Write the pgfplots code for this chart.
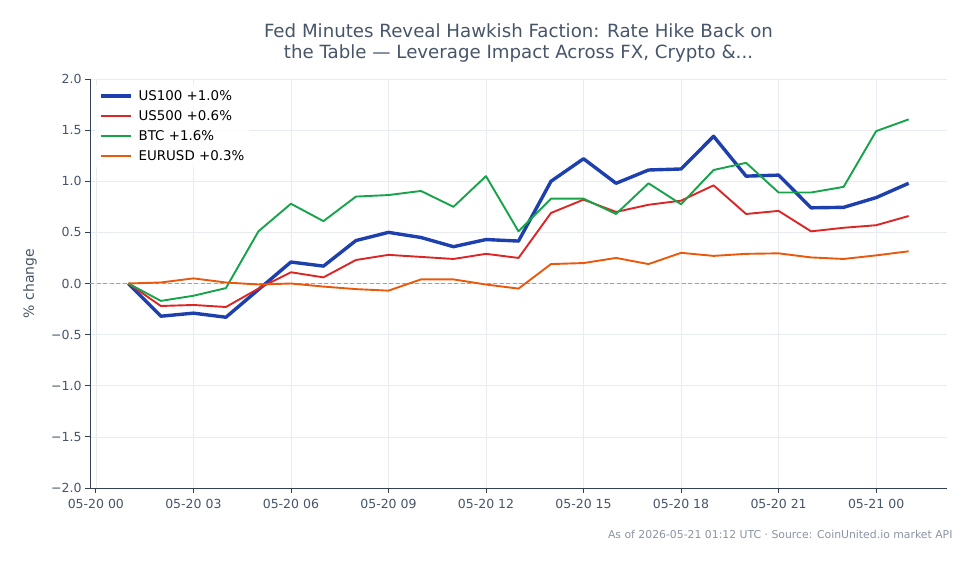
\documentclass[border=0pt]{standalone}
\usepackage{fontspec}
\setmainfont{DejaVu Sans}
\usepackage{pgfplots}
\pgfplotsset{compat=1.18}

\definecolor{cUS}{HTML}{1E40AF}
\definecolor{cSP}{HTML}{DC2626}
\definecolor{cBTC}{HTML}{16A34A}
\definecolor{cEUR}{HTML}{EA580C}
\definecolor{txt}{HTML}{475569}
\definecolor{spine}{HTML}{334155}
\definecolor{gridc}{HTML}{E8ECF1}
\definecolor{zero}{HTML}{94A3B8}
\definecolor{foot}{HTML}{8A94A3}

% hours since 05-20 00 UTC, percent change since the first sample
\pgfplotstableread{
h   us100  us500  btc    eur
1   0.00   0.00   0.00   0.00
2  -0.32  -0.22  -0.17   0.01
3  -0.29  -0.21  -0.12   0.05
4  -0.33  -0.23  -0.045  0.01
5  -0.06  -0.05   0.51  -0.01
6   0.21   0.11   0.78   0.00
7   0.17   0.06   0.61  -0.03
8   0.42   0.23   0.85  -0.055
9   0.50   0.28   0.865 -0.07
10  0.45   0.26   0.905  0.04
11  0.36   0.24   0.75   0.04
12  0.43   0.29   1.05  -0.01
13  0.415  0.25   0.51  -0.05
14  1.00   0.69   0.83   0.19
15  1.22   0.82   0.83   0.20
16  0.98   0.70   0.68   0.25
17  1.11   0.77   0.98   0.19
18  1.12   0.81   0.775  0.30
19  1.44   0.96   1.11   0.27
20  1.05   0.68   1.18   0.29
21  1.06   0.71   0.89   0.295
22  0.74   0.51   0.89   0.255
23  0.745  0.545  0.945  0.24
24  0.84   0.57   1.49   0.275
25  0.98   0.66   1.605  0.315
}\moves

\begin{document}
\begin{tikzpicture}
\path[use as bounding box] (0,0) rectangle (979bp,564bp);
\begin{axis}[
  at={(90bp,76bp)}, anchor=south west,
  scale only axis, width=857bp, height=409bp,
  xmin=-0.18, xmax=26.18, ymin=-2, ymax=2,
  axis x line*=bottom, axis y line*=left,
  axis line style={spine, line width=0.9bp},
  xtick={0,3,...,24},
  xticklabels={05-20 00,05-20 03,05-20 06,05-20 09,05-20 12,05-20 15,05-20 18,05-20 21,05-21 00},
  ytick={-2,-1.5,...,2},
  yticklabels={−2.0,−1.5,−1.0,−0.5,0.0,0.5,1.0,1.5,2.0},
  tick align=outside, tick pos=left,
  major tick length=5bp,
  tick style={spine, line width=0.8bp},
  ticklabel style={font=\fontsize{12.5bp}{14bp}\selectfont, text=txt},
  /pgf/number format/assume math mode=true,
  xticklabel style={yshift=-3bp},
  grid=major, major grid style={gridc, line width=0.6bp},
  ylabel={\% change},
  ylabel style={at={(axis description cs:-0.07,0.5)}, rotate=0, anchor=center,
    font=\fontsize{14bp}{16bp}\selectfont, text=txt},
  legend style={at={(0.007,0.985)}, anchor=north west, draw=none, fill=white, fill opacity=0.8, text opacity=1,
    font=\fontsize{13.4bp}{15bp}\selectfont, row sep=4.6bp, inner sep=3bp,
    /tikz/every even column/.append style={column sep=3bp}},
  legend cell align=left,
  legend image code/.code={\draw[#1] (0bp,0bp) -- (30bp,0bp);},
  clip=false,
]
\addplot[zero, line width=1bp, forget plot, dash pattern=on 4bp off 2.5bp] coordinates {(-0.18,0) (26.18,0)};
\addplot[cUS, line width=3.4bp, line join=round] table[x=h, y=us100] {\moves};
\addlegendentry{\hspace{4bp}US100 +1.0\%}
\addplot[cSP, line width=1.9bp, line join=round] table[x=h, y=us500] {\moves};
\addlegendentry{\hspace{4bp}US500 +0.6\%}
\addplot[cBTC, line width=1.9bp, line join=round] table[x=h, y=btc] {\moves};
\addlegendentry{\hspace{4bp}BTC +1.6\%}
\addplot[cEUR, line width=1.9bp, line join=round] table[x=h, y=eur] {\moves};
\addlegendentry{\hspace{4bp}EURUSD +0.3\%}
\end{axis}
\node[align=center, text=txt, font=\fontsize{18.2bp}{21bp}\selectfont] at (518.5bp,521.5bp)
  {Fed Minutes Reveal Hawkish Faction: Rate Hike Back on\\the Table — Leverage Impact Across FX, Crypto \&...};
\node[anchor=east, text=foot, font=\fontsize{10.85bp}{12bp}\selectfont] at (956bp,29.5bp)
  {As of 2026-05-21 01:12 UTC · Source: CoinUnited.io market API};
\end{tikzpicture}
\end{document}
